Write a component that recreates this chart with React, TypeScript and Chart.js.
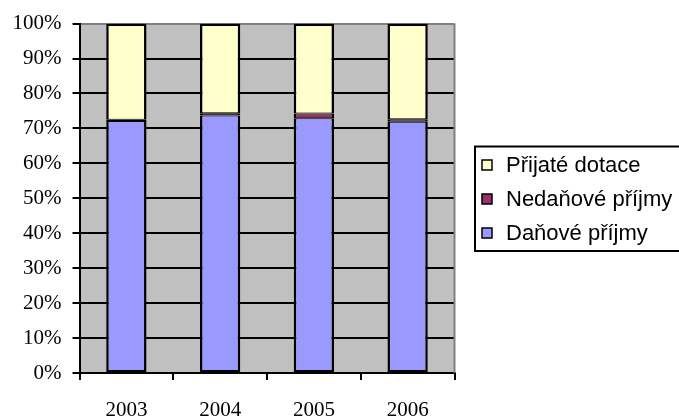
import React, { useEffect, useRef } from "react";
import { Chart, registerables } from "chart.js";

Chart.register(...registerables);

// Years on the category axis
const years = ["2003", "2004", "2005", "2006"];

// Share of each revenue type in the yearly total (%)
const danovePrijmy = [72.1, 73.7, 72.9, 71.9];
const nedanovePrijmy = [0.4, 0.65, 1.35, 0.75];
const prijateDotace = [27.5, 25.65, 25.75, 27.35];

// Percentage axis ticks
const percentTicks = [0, 10, 20, 30, 40, 50, 60, 70, 80, 90, 100];

const PLOT_BG = "#C0C0C0";
const FRAME_GRAY = "#808080";
const SERIF = "'Liberation Serif', 'Times New Roman', serif";
const SANS = "'Liberation Sans', Arial, sans-serif";

// Grey plot background and the grey right-hand edge of the plot frame
const plotFrame = {
  id: "plotFrame",
  beforeDraw(chart: any) {
    const { ctx, chartArea: a } = chart;
    ctx.save();
    ctx.fillStyle = PLOT_BG;
    ctx.fillRect(a.left, a.top, a.right - a.left, a.bottom - a.top);
    ctx.restore();
  },
  beforeDatasetsDraw(chart: any) {
    const { ctx, chartArea: a } = chart;
    ctx.save();
    ctx.strokeStyle = FRAME_GRAY;
    ctx.lineWidth = 2;
    ctx.beginPath();
    ctx.moveTo(a.right, a.top);
    ctx.lineTo(a.right, a.bottom);
    ctx.stroke();
    ctx.restore();
  },
};

// Boxed legend on the right, top series first
const boxedLegend = {
  id: "boxedLegend",
  afterDraw(chart: any) {
    const { ctx } = chart;
    const boxLeft = 475;
    const boxTop = 146.5;
    const boxBottom = 251;
    const firstRowY = 165;
    const rowGap = 34;
    ctx.save();
    ctx.strokeStyle = "#000";
    ctx.lineWidth = 2;
    ctx.strokeRect(boxLeft, boxTop, 300, boxBottom - boxTop);

    const items = chart.data.datasets.slice().reverse();
    ctx.font = `22px ${SANS}`;
    ctx.textBaseline = "middle";
    ctx.textAlign = "left";
    items.forEach((ds: any, i: number) => {
      const cy = firstRowY + i * rowGap;
      ctx.fillStyle = ds.backgroundColor;
      ctx.fillRect(482, cy - 5, 10, 10);
      ctx.lineWidth = 1.5;
      ctx.strokeStyle = "#000";
      ctx.strokeRect(482, cy - 5, 10, 10);
      ctx.fillStyle = "#000";
      ctx.fillText(ds.label, 506, cy + 1);
    });
    ctx.restore();
  },
};

export default function App() {
  const canvasRef = useRef<HTMLCanvasElement | null>(null);

  useEffect(() => {
    if (!canvasRef.current) return;
    const chart = new Chart(canvasRef.current, {
      type: "bar",
      data: {
        labels: years,
        datasets: [
          {
            label: "Daňové příjmy",
            data: danovePrijmy,
            backgroundColor: "#9999FF",
            borderColor: "#000",
            borderWidth: { top: 1, bottom: 2, left: 2.5, right: 2.5 },
            borderSkipped: false,
          },
          {
            label: "Nedaňové příjmy",
            data: nedanovePrijmy,
            backgroundColor: "#993366",
            borderColor: "#000",
            borderWidth: { top: 1, bottom: 1, left: 2.5, right: 2.5 },
            borderSkipped: false,
          },
          {
            label: "Přijaté dotace",
            data: prijateDotace,
            backgroundColor: "#FFFFCC",
            borderColor: "#000",
            borderWidth: { top: 2.5, bottom: 1, left: 2.5, right: 2.5 },
            borderSkipped: false,
          },
        ],
      },
      options: {
        animation: false,
        responsive: true,
        maintainAspectRatio: false,
        layout: { padding: { left: 0, top: 23, right: 224.5, bottom: 0 } },
        datasets: {
          bar: { barPercentage: 0.43, categoryPercentage: 1, inflateAmount: 0 },
        },
        plugins: {
          legend: { display: false },
          tooltip: { enabled: false },
        },
        scales: {
          x: {
            stacked: true,
            offset: true,
            grid: {
              offset: true,
              drawOnChartArea: false,
              drawTicks: true,
              tickLength: 7,
              tickColor: "#000",
              color: "#000",
              lineWidth: 2,
            },
            border: { color: "#000", width: 2 },
            ticks: {
              color: "#000",
              padding: 18,
              maxRotation: 0,
              font: { family: SERIF, size: 21 },
            },
            afterFit(scale: any) {
              scale.height = 45;
            },
          },
          y: {
            stacked: true,
            min: 0,
            max: 100,
            afterBuildTicks(scale: any) {
              scale.ticks = percentTicks.map((v) => ({ value: v }));
            },
            grid: {
              color: (c: any) => (c.tick && c.tick.value === 100 ? FRAME_GRAY : "#000"),
              tickColor: "#000",
              lineWidth: 2,
              tickLength: 7,
              drawTicks: true,
            },
            border: { color: "#000", width: 2 },
            ticks: {
              color: "#000",
              padding: 11,
              font: { family: SERIF, size: 21 },
              callback: (v: any) => `${v}%`,
            },
            afterFit(scale: any) {
              scale.width = 79.5;
            },
          },
        },
      },
      plugins: [plotFrame, boxedLegend],
    });
    return () => chart.destroy();
  }, []);

  return (
    <div style={{ position: "absolute", left: 0, top: 0, width: 679, height: 418, background: "#fff" }}>
      <canvas ref={canvasRef} />
    </div>
  );
}
